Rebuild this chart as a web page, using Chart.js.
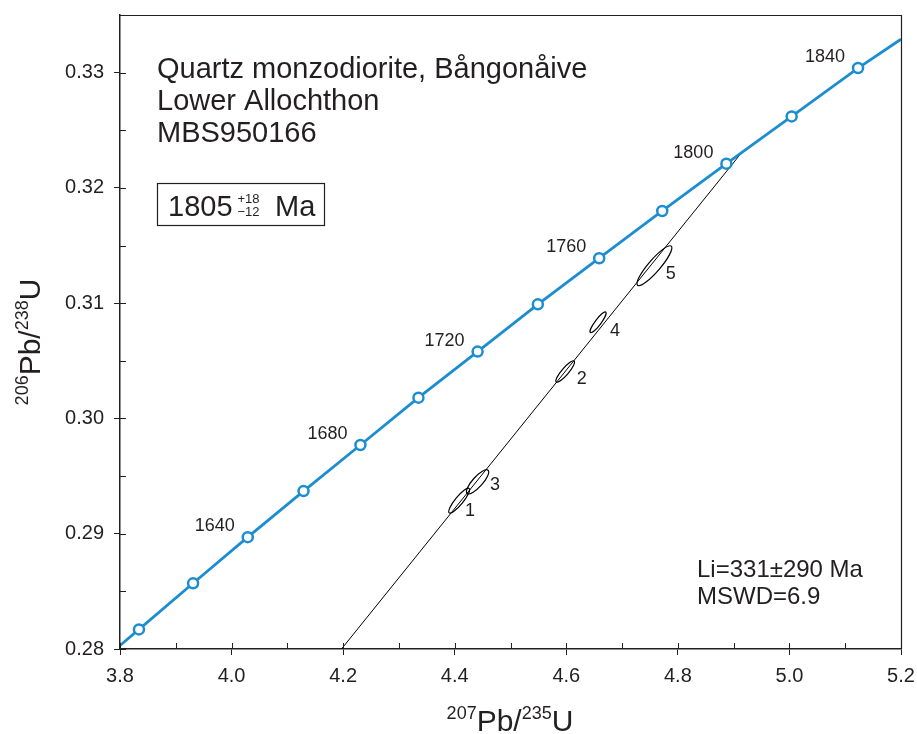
<!DOCTYPE html>
<html>
<head>
<meta charset="utf-8">
<script src="https://cdn.jsdelivr.net/npm/chart.js@4.4.0/dist/chart.umd.min.js"></script>
<style>
  html, body { margin: 0; padding: 0; background: #fff; }
</style>
</head>
<body>
<canvas id="myChart" width="917" height="734"></canvas>
<script>
// concordia ages (Ma) and ratios
const ages = [1600, 1620, 1640, 1660, 1680, 1700, 1720, 1740, 1760, 1780, 1800, 1820, 1840];
const concX = [3.834, 3.931, 4.029, 4.129, 4.231, 4.335, 4.441, 4.549, 4.659, 4.772, 4.887, 5.004, 5.123];
const concY = [0.2817, 0.2857, 0.2897, 0.2937, 0.2977, 0.3018, 0.3058, 0.3099, 0.3139, 0.3180, 0.3221, 0.3262, 0.3304];
const labelAges = [1640, 1680, 1720, 1760, 1800, 1840];
const concEndX = [3.8, 5.2];
const concEndY = [0.2803, 0.3329];

// discordia
const discX = [4.197, 4.915];
const discY = [0.28, 0.3231];

// analyses (error ellipses)
const ellNames = ['1', '2', '3', '4', '5'];
const ellX = [4.408, 4.598, 4.441, 4.657, 4.758];
const ellY = [0.29287, 0.30407, 0.29450, 0.30834, 0.31325];
const ellDX = [0.0179, 0.0161, 0.0188, 0.0137, 0.0302];
const ellDY = [0.00106, 0.00091, 0.00101, 0.00089, 0.0017];
const ellRatio = [0.25, 0.25, 0.32, 0.23, 0.23];
const ellLabelX = [4.4274, 4.6276, 4.4722, 4.6873, 4.7871];
const ellLabelY = [0.29198, 0.30346, 0.29421, 0.30758, 0.31256];

const xTicks = [3.8, 4.0, 4.2, 4.4, 4.6, 4.8, 5.0, 5.2];
const xMinor = [3.9, 4.1, 4.3, 4.5, 4.7, 4.9, 5.1];
const yTicks = [0.28, 0.29, 0.30, 0.31, 0.32, 0.33];
const yMinor = [0.285, 0.295, 0.305, 0.315, 0.325];

const FONT = '"Liberation Sans", Arial, Helvetica, sans-serif';
const INK = '#231f20';
const BLUE = '#1b8dd0';

const concLine = [{ x: concEndX[0], y: concEndY[0] }];
concX.forEach((x, i) => concLine.push({ x: x, y: concY[i] }));
concLine.push({ x: concEndX[1], y: concEndY[1] });

const decor = {
  id: 'decor',
  afterDatasetsDraw(chart) {
    const ctx = chart.ctx;
    const xs = chart.scales.x, ys = chart.scales.y;
    const a = chart.chartArea;
    ctx.save();

    // frame top + right
    ctx.strokeStyle = INK;
    ctx.lineWidth = 1.2;
    ctx.beginPath();
    ctx.moveTo(a.left, a.top + 0.5);
    ctx.lineTo(a.right + 0.5, a.top + 0.5);
    ctx.lineTo(a.right + 0.5, a.bottom);
    ctx.stroke();

    // inward ticks
    ctx.lineWidth = 1;
    ctx.beginPath();
    xTicks.concat(xMinor).forEach(v => {
      const p = Math.round(xs.getPixelForValue(v)) + 0.5;
      ctx.moveTo(p, a.bottom); ctx.lineTo(p, a.bottom - 6);
    });
    yTicks.concat(yMinor).forEach(v => {
      const p = Math.round(ys.getPixelForValue(v)) + 0.5;
      ctx.moveTo(a.left, p); ctx.lineTo(a.left + 6, p);
    });
    ctx.stroke();

    // ellipses
    ctx.strokeStyle = '#000';
    ctx.lineWidth = 1.2;
    ellX.forEach((v, i) => {
      const cx = xs.getPixelForValue(v), cy = ys.getPixelForValue(ellY[i]);
      const ex = xs.getPixelForValue(v + ellDX[i]) - cx;
      const ey = ys.getPixelForValue(ellY[i] + ellDY[i]) - cy;
      const r = Math.hypot(ex, ey);
      ctx.beginPath();
      ctx.ellipse(cx, cy, r, r * ellRatio[i], Math.atan2(ey, ex), 0, Math.PI * 2);
      ctx.stroke();
    });

    // ellipse numbers
    ctx.fillStyle = INK;
    ctx.font = '18px ' + FONT;
    ctx.textAlign = 'center';
    ctx.textBaseline = 'middle';
    ellNames.forEach((n, i) => {
      ctx.fillText(n, xs.getPixelForValue(ellLabelX[i]), ys.getPixelForValue(ellLabelY[i]));
    });

    // age labels on concordia
    ctx.font = '18px ' + FONT;
    ctx.textAlign = 'right';
    labelAges.forEach(age => {
      const i = ages.indexOf(age);
      ctx.fillText(String(age), xs.getPixelForValue(concX[i]) - 13, ys.getPixelForValue(concY[i]) - 11);
    });

    // sample text
    ctx.textAlign = 'left';
    ctx.textBaseline = 'alphabetic';
    ctx.font = '29px ' + FONT;
    ctx.fillText('Quartz monzodiorite, Bångonåive', 157, 78);
    ctx.fillText('Lower Allochthon', 157, 110);
    ctx.fillText('MBS950166', 157, 142);

    // age box
    ctx.lineWidth = 1.2;
    ctx.strokeStyle = INK;
    ctx.strokeRect(157.5, 183.5, 167, 42);
    ctx.font = '29px ' + FONT;
    ctx.fillText('1805', 168, 216);
    const w1805 = ctx.measureText('1805').width;
    ctx.font = '13px ' + FONT;
    ctx.fillText('+18', 168 + w1805 + 5, 203);
    ctx.fillText('\u221212', 168 + w1805 + 5, 216);
    ctx.font = '29px ' + FONT;
    ctx.fillText('Ma', 275, 216);

    // intercept text
    ctx.font = '24px ' + FONT;
    ctx.fillText('Li=331\u00b1290 Ma', 697, 577);
    ctx.fillText('MSWD=6.9', 697, 604);

    ctx.restore();
  },
  afterDraw(chart) {
    const ctx = chart.ctx;
    ctx.save();
    ctx.fillStyle = INK;
    ctx.textBaseline = 'alphabetic';
    const parts = (a, b) => [[a, 18, -12], ['Pb/', 30, 0], [b, 18, -12], ['U', 30, 0]];
    const drawTitle = (segs, cx, base) => {
      let total = 0;
      segs.forEach(s => { ctx.font = s[1] + 'px ' + FONT; total += ctx.measureText(s[0]).width; });
      let x = cx - total / 2;
      segs.forEach(s => {
        ctx.font = s[1] + 'px ' + FONT;
        ctx.fillText(s[0], x, base + s[2]);
        x += ctx.measureText(s[0]).width;
      });
    };
    ctx.textAlign = 'left';
    drawTitle(parts('207', '235'), 510, 731);
    ctx.translate(40, 342);
    ctx.rotate(-Math.PI / 2);
    drawTitle(parts('206', '238'), 0, 0);
    ctx.restore();
  }
};

const ctx = document.getElementById('myChart').getContext('2d');
const chart = new Chart(ctx, {
  type: 'scatter',
  data: {
    datasets: [
      {
        label: 'ages',
        data: concX.map((x, i) => ({ x: x, y: concY[i] })),
        showLine: false,
        pointRadius: 5,
        pointBorderWidth: 2.5,
        pointBorderColor: BLUE,
        pointBackgroundColor: '#fff',
        order: 0,
      },
      {
        label: 'concordia',
        data: concLine,
        showLine: true,
        borderColor: BLUE,
        borderWidth: 2.8,
        pointRadius: 0,
        order: 1,
      },
      {
        label: 'discordia',
        data: discX.map((x, i) => ({ x: x, y: discY[i] })),
        showLine: true,
        borderColor: '#000',
        borderWidth: 1,
        pointRadius: 0,
        order: 2,
      },
    ],
  },
  options: {
    responsive: false,
    animation: false,
    layout: { padding: { top: 15, right: 16, left: 0, bottom: 0 } },
    plugins: { legend: { display: false }, tooltip: { enabled: false } },
    scales: {
      x: {
        type: 'linear',
        min: 3.8,
        max: 5.2,
        afterFit(s) { s.height = 85; s.paddingLeft = 0; s.paddingRight = 0; },
        afterBuildTicks(s) { s.ticks = xTicks.map(v => ({ value: v })); },
        ticks: {
          callback: v => v.toFixed(1),
          font: { family: FONT, size: 20 },
          color: INK,
          padding: 9,
          maxRotation: 0,
          autoSkip: false,
        },
        grid: { drawOnChartArea: false, tickLength: 6, color: INK, lineWidth: 1 },
        border: { color: INK, width: 1.5 },
      },
      y: {
        type: 'linear',
        min: 0.28,
        max: 0.335,
        afterFit(s) { s.width = 120; s.paddingTop = 0; s.paddingBottom = 0; },
        afterBuildTicks(s) { s.ticks = yTicks.map(v => ({ value: v })); },
        ticks: {
          callback: v => v.toFixed(2),
          font: { family: FONT, size: 20 },
          color: INK,
          padding: 10,
          autoSkip: false,
        },
        grid: { drawOnChartArea: false, tickLength: 6, color: INK, lineWidth: 1 },
        border: { color: INK, width: 1.5 },
      },
    },
  },
  plugins: [decor],
});
</script>
</body>
</html>
